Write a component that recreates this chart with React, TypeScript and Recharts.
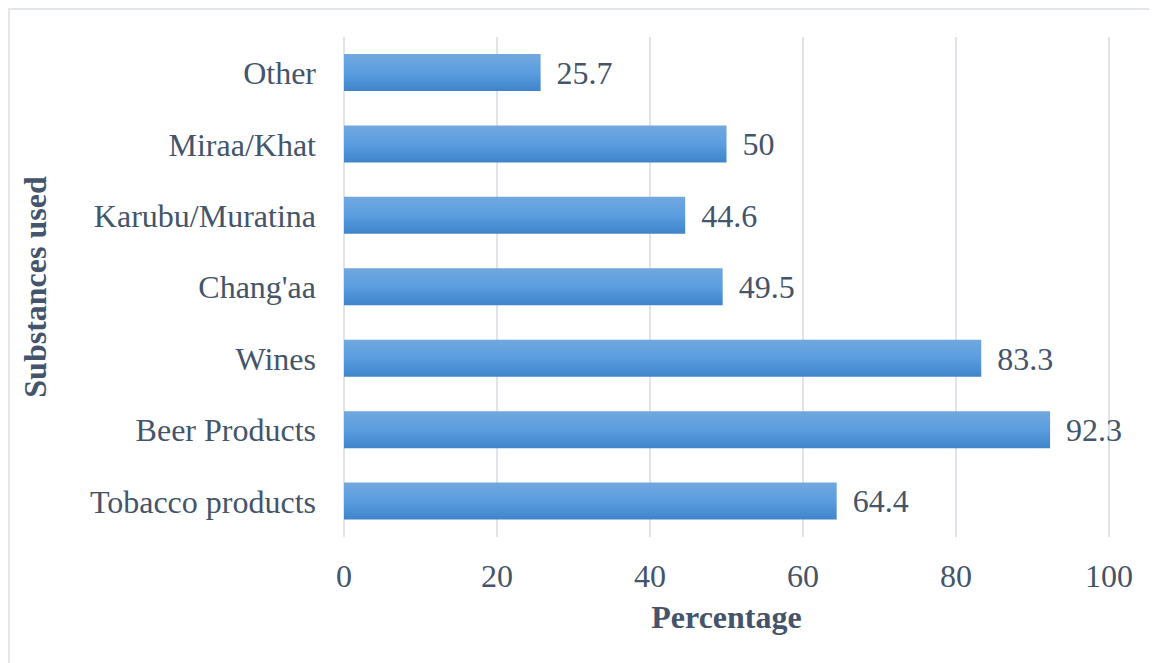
import React from "react";
import { BarChart, Bar, XAxis, YAxis, CartesianGrid, LabelList, Label } from "recharts";

const categories = ["Other", "Miraa/Khat", "Karubu/Muratina", "Chang'aa", "Wines", "Beer Products", "Tobacco products"];
const percentages = [25.7, 50, 44.6, 49.5, 83.3, 92.3, 64.4];
const xTicks = [0, 20, 40, 60, 80, 100];

const data = categories.map((name, i) => ({ name, value: percentages[i] }));

const FONT = '"Liberation Serif", "Times New Roman", serif';
const TEXT = "#44546a";
const FS = 32;

export default function App() {
  return (
    <div style={{ position: "relative", width: 1149, height: 660 }}>
      <BarChart
        width={1149}
        height={655}
        data={data}
        layout="vertical"
        margin={{ top: 29, right: 48, bottom: 26, left: 0 }}
        style={{ fontFamily: FONT }}
      >
        <defs>
          <linearGradient id="barGrad" x1="0" y1="0" x2="0" y2="1">
            <stop offset="0%" stopColor="#71a8de" />
            <stop offset="50%" stopColor="#5a9de0" />
            <stop offset="100%" stopColor="#3f84c9" />
          </linearGradient>
        </defs>
        <CartesianGrid horizontal={false} stroke="#dfe3ea" strokeWidth={2} />
        <XAxis
          type="number"
          domain={[0, 100]}
          ticks={xTicks}
          axisLine={false}
          tickLine={false}
          tickSize={0}
          tickMargin={27}
          height={100}
          tick={{ fill: TEXT, fontSize: FS, fontFamily: FONT }}
        >
          <Label
            content={({ viewBox }: any) => (
              <text
                x={viewBox.x + viewBox.width / 2}
                y={viewBox.y + 91}
                textAnchor="middle"
                fill={TEXT}
                fontSize={FS}
                fontWeight="bold"
                fontFamily={FONT}
              >
                Percentage
              </text>
            )}
          />
        </XAxis>
        <YAxis
          type="category"
          dataKey="name"
          width={336}
          axisLine={false}
          tickLine={false}
          tickSize={0}
          tickMargin={28}
          interval={0}
          tick={{ fill: TEXT, fontSize: FS, fontFamily: FONT }}
        >
          <Label
            content={({ viewBox }: any) => {
              const cx = 27;
              const cy = viewBox.y + viewBox.height / 2;
              return (
                <text
                  x={cx}
                  y={cy}
                  textAnchor="middle"
                  dominantBaseline="central"
                  transform={`rotate(-90 ${cx} ${cy})`}
                  fill={TEXT}
                  fontSize={FS}
                  fontWeight="bold"
                  fontFamily={FONT}
                >
                  Substances used
                </text>
              );
            }}
          />
        </YAxis>
        <Bar dataKey="value" fill="url(#barGrad)" barSize={37} isAnimationActive={false}>
          <LabelList
            dataKey="value"
            position="right"
            offset={16}
            fill={TEXT}
            fontSize={FS}
            fontFamily={FONT}
          />
        </Bar>
      </BarChart>
      <div
        style={{
          position: "absolute",
          left: 0,
          top: 0,
          width: 1160,
          height: 700,
          border: "2px solid #e2e5ea",
          pointerEvents: "none",
          boxSizing: "border-box",
        }}
      />
    </div>
  );
}
